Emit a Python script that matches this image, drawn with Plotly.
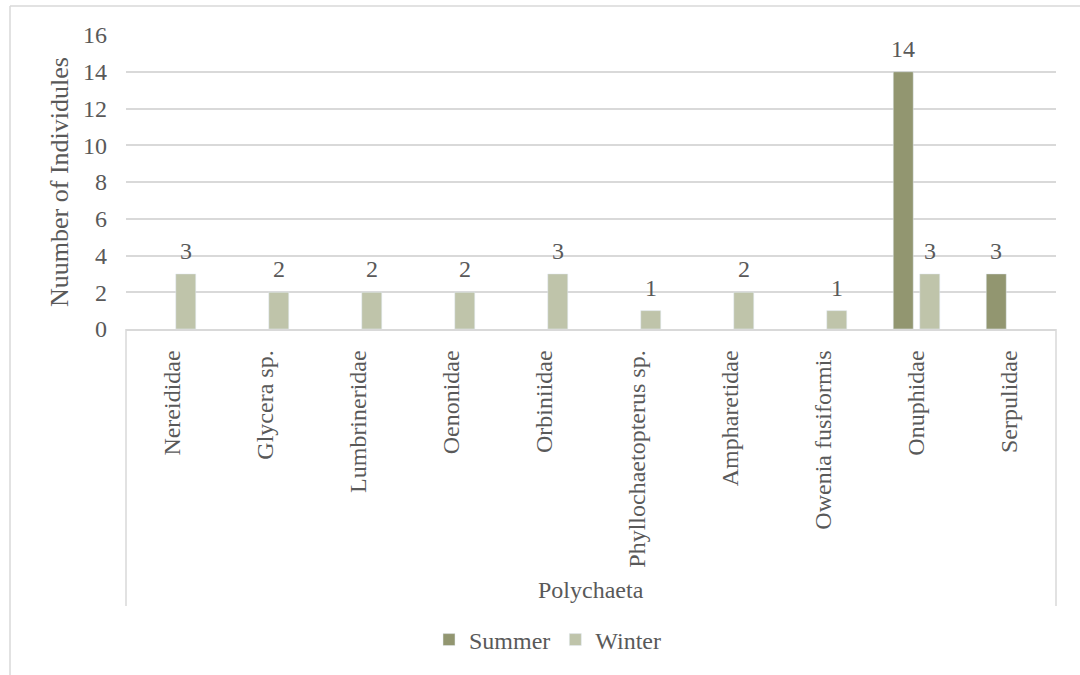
import plotly.graph_objects as go

# Polychaeta families and counts per season
families = [
    "Nereididae", "Glycera sp.", "Lumbrineridae", "Oenonidae", "Orbiniidae",
    "Phyllochaetopterus sp.", "Ampharetidae", "Owenia fusiformis", "Onuphidae", "Serpulidae",
]
summer = [None, None, None, None, None, None, None, None, 14, 3]
winter = [3, 2, 2, 2, 3, 1, 2, 1, 3, None]
group_label = "Polychaeta"
y_title = "Nuumber of Individules"
y_ticks = [0, 2, 4, 6, 8, 10, 12, 14, 16]

SUMMER_COLOR = "#929670"
WINTER_COLOR = "#BFC4AA"
TEXT_COLOR = "#595959"
LINE_COLOR = "#D9D9D9"
FONT = "Liberation Serif"
FS = 24

W, H = 1080, 675
PLOT_L, PLOT_R, PLOT_T, PLOT_B = 126, 1056, 35, 329
BARGAP, GROUPGAP = 0.43, 0.245


def px_x(px):
    return (px - PLOT_L) / (PLOT_R - PLOT_L)


def px_y(py):
    return (PLOT_B - py) / (PLOT_B - PLOT_T)


fig = go.Figure()
fig.add_trace(go.Bar(name="Summer", x=families, y=summer, marker_color=SUMMER_COLOR))
fig.add_trace(go.Bar(name="Winter", x=families, y=winter, marker_color=WINTER_COLOR))

# value labels above each bar
cat_w = (PLOT_R - PLOT_L) / len(families)
slot = cat_w * (1 - BARGAP) / 2
annotations = []
for vals, shift in ((summer, -slot / 2), (winter, slot / 2)):
    for name, v in zip(families, vals):
        if v is None:
            continue
        annotations.append(dict(
            x=name, y=v, xref="x", yref="y", text=str(v), showarrow=False,
            xshift=shift, yshift=23, yanchor="middle",
            font=dict(family=FONT, size=FS, color=TEXT_COLOR),
        ))

annotations.append(dict(
    x=0.5, y=px_y(590), xref="paper", yref="paper", text=group_label,
    showarrow=False, yanchor="middle", xanchor="center",
    font=dict(family=FONT, size=FS, color=TEXT_COLOR),
))

line = dict(color=LINE_COLOR, width=1.5)
shapes = [
    # chart border (top and left)
    dict(type="line", xref="paper", yref="paper", x0=px_x(10), x1=px_x(1080), y0=px_y(6), y1=px_y(6), line=line),
    dict(type="line", xref="paper", yref="paper", x0=px_x(10), x1=px_x(10), y0=px_y(6), y1=px_y(675), line=line),
    # category group box
    dict(type="line", xref="paper", yref="paper", x0=0, x1=0, y0=0, y1=px_y(606), line=line),
    dict(type="line", xref="paper", yref="paper", x0=1, x1=1, y0=0, y1=px_y(606), line=line),
]

fig.update_layout(
    width=W, height=H,
    margin=dict(l=PLOT_L, r=W - PLOT_R, t=PLOT_T, b=H - PLOT_B),
    paper_bgcolor="white", plot_bgcolor="white",
    barmode="group", bargap=BARGAP, bargroupgap=GROUPGAP,
    font=dict(family=FONT, size=FS, color=TEXT_COLOR),
    showlegend=True,
    legend=dict(
        orientation="h", xref="container", yref="container",
        x=548 / W, xanchor="center", y=1 - 640 / H, yanchor="middle",
        font=dict(family=FONT, size=FS, color=TEXT_COLOR),
        itemwidth=30,
    ),
    annotations=annotations,
    shapes=shapes,
)
fig.update_xaxes(
    tickangle=-90, showline=True, linecolor=LINE_COLOR, linewidth=1.5,
    showgrid=False, ticks="", ticklabelstandoff=10,
    tickfont=dict(family=FONT, size=FS, color=TEXT_COLOR),
)
fig.update_yaxes(
    range=[0, 16], tickvals=y_ticks, showgrid=True, gridcolor=LINE_COLOR, gridwidth=1.5,
    zeroline=False, showline=False, ticks="", ticklabelstandoff=18,
    tickfont=dict(family=FONT, size=FS, color=TEXT_COLOR),
    title=dict(text=y_title, standoff=6, font=dict(family=FONT, size=26, color=TEXT_COLOR)),
)

fig.write_html("out.html")
